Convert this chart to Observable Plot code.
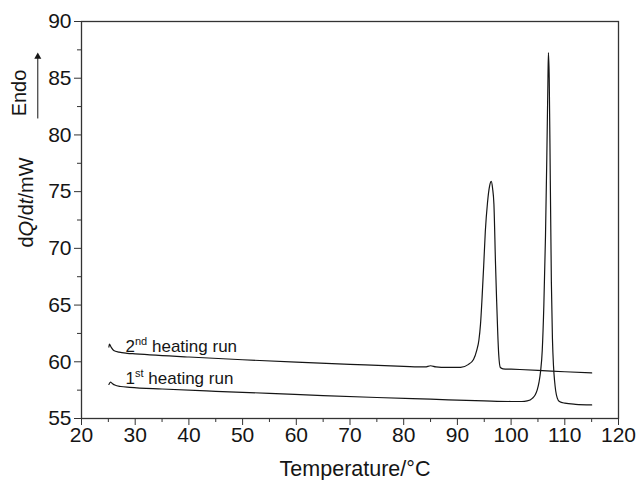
<!DOCTYPE html>
<html><head><meta charset="utf-8">
<script src="https://cdn.jsdelivr.net/npm/d3@7"></script>
<script src="https://cdn.jsdelivr.net/npm/@observablehq/plot@0.6"></script>
<style>body{margin:0;background:#fff}</style>
</head><body><div id="chart"></div>
<script>
// 2nd heating run
const run2T = [25.1, 25.2, 25.5, 26, 27, 28.5, 30, 40, 50, 60, 70, 80, 84, 85, 86, 88, 90.6, 92, 93, 93.6, 94, 94.3, 94.6, 94.9, 95.2, 95.6, 96, 96.3, 96.55, 96.8, 97.1, 97.3, 97.5, 97.7, 98, 98.5, 100, 105, 110, 115];
const run2Q = [61.3, 61.55, 61.3, 61.0, 60.85, 60.75, 60.7, 60.42, 60.18, 59.97, 59.78, 59.6, 59.55, 59.65, 59.55, 59.5, 59.5, 59.75, 60.2, 61.0, 61.9, 63.3, 65.7, 68.5, 71.5, 74.0, 75.5, 75.9, 75.3, 73.9, 68.6, 65.5, 62.7, 60.6, 59.5, 59.38, 59.35, 59.25, 59.12, 59.02];
// 1st heating run
const run1T = [25.1, 25.4, 25.7, 26.2, 27.3, 29, 35, 45, 55, 65, 75, 85, 95, 100, 102, 103, 104, 104.5, 104.85, 105.2, 105.5, 105.8, 106.1, 106.4, 106.65, 106.85, 106.95, 107.1, 107.3, 107.5, 107.7, 107.9, 108.1, 108.3, 108.6, 109, 110, 112, 115];
const run1Q = [58.0, 58.2, 58.1, 57.95, 57.82, 57.75, 57.6, 57.4, 57.22, 57.02, 56.85, 56.7, 56.55, 56.5, 56.5, 56.55, 56.8, 57.1, 57.5, 58.2, 59.2, 61.0, 65.0, 71.0, 78.0, 84.5, 87.25, 85.0, 76.0, 67.0, 62.0, 59.6, 58.3, 57.45, 56.8, 56.5, 56.35, 56.25, 56.2];

const xTicks = [20, 30, 40, 50, 60, 70, 80, 90, 100, 110, 120];
const xMinor = [25, 35, 45, 55, 65, 75, 85, 95, 105, 115];
const yTicks = [55, 60, 65, 70, 75, 80, 85, 90];
const yMinor = [57.5, 62.5, 67.5, 72.5, 77.5, 82.5, 87.5];

const runLabels = ["2nd heating run", "1st heating run"];
const runLabelT = [28.2, 28.2];
const runLabelQ = [60.83, 58.05];

// annotation arrow ("Endo" direction), in data units
const endoArrowT = [11.86];
const endoArrowQ1 = [81.45];
const endoArrowQ2 = [86.9];

const run1 = run1T.map((T, i) => ({T, Q: run1Q[i]}));
const run2 = run2T.map((T, i) => ({T, Q: run2Q[i]}));
const labelData = runLabels.map((s, i) => ({s, T: runLabelT[i], Q: runLabelQ[i]}));
const arrowData = endoArrowT.map((T, i) => ({T, Q1: endoArrowQ1[i], Q2: endoArrowQ2[i]}));

const ink = "#151515";
const chart = Plot.plot({
  width: 638, height: 480,
  marginLeft: 81, marginRight: 20, marginTop: 21, marginBottom: 62,
  style: {fontFamily: "'Liberation Sans', Arial, sans-serif", fontSize: "21px", color: ink, background: "#fff", overflow: "visible"},
  x: {domain: [20, 120]},
  y: {domain: [55, 90]},
  marks: [
    Plot.axisX({ticks: xMinor, tickSize: 4, tickFormat: () => "", label: null, stroke: "#333"}),
    Plot.axisX({ticks: xTicks, tickSize: 7, tickPadding: 2, label: null, stroke: "#333"}),
    Plot.axisY({ticks: yMinor, tickSize: 4, tickFormat: () => "", label: null, stroke: "#333"}),
    Plot.axisY({ticks: yTicks, tickSize: 7, tickPadding: 3, label: null, stroke: "#333"}),
    Plot.frame({stroke: "#333", strokeWidth: 1.3}),
    Plot.line(run2, {x: "T", y: "Q", curve: "monotone-x", stroke: ink, strokeWidth: 1.2}),
    Plot.line(run1, {x: "T", y: "Q", curve: "monotone-x", stroke: ink, strokeWidth: 1.2}),
    Plot.text(labelData, {x: "T", y: "Q", text: "s", textAnchor: "start", lineAnchor: "bottom", fontSize: 17, fill: ink}),
    Plot.text(["Temperature/°C"], {frameAnchor: "bottom", lineAnchor: "middle", dx: 5, dy: 51, fontSize: 21.5, fill: ink}),
    Plot.text(["dQ/dt/mW"], {frameAnchor: "left", textAnchor: "middle", lineAnchor: "middle", dx: -55, dy: -17.5, rotate: -90, fontSize: 20, fill: ink}),
    Plot.text(["Endo"], {frameAnchor: "top-left", textAnchor: "middle", lineAnchor: "middle", dx: -61.5, dy: 71.5, rotate: -90, fontSize: 20, fill: ink}),
    Plot.link(arrowData, {x1: "T", x2: "T", y1: "Q1", y2: "Q2", stroke: ink, strokeWidth: 1, clip: false}),
    Plot.dot(arrowData, {x: "T", y: "Q2", symbol: "triangle", r: 2.6, fill: ink, stroke: null, clip: false})
  ]
});

const NS = "http://www.w3.org/2000/svg";
function add(t, str, attrs = {}) {
  const s = document.createElementNS(NS, "tspan");
  for (const [k, v] of Object.entries(attrs)) s.setAttribute(k, v);
  s.textContent = str;
  t.appendChild(s);
}
chart.querySelectorAll("text").forEach(t => {
  const s = t.textContent;
  if (s === "2nd heating run" || s === "1st heating run") {
    t.textContent = "";
    add(t, s.slice(0, 1));
    add(t, s.slice(1, 3), {"font-size": "11px", dy: "-7"});
    add(t, s.slice(3), {dy: "7"});
  } else if (s === "dQ/dt/mW") {
    t.textContent = "";
    add(t, "d");
    add(t, "Q", {"font-style": "italic"});
    add(t, "/d");
    add(t, "t", {"font-style": "italic"});
    add(t, "/mW");
  }
});
document.getElementById("chart").appendChild(chart);
</script>
</body></html>
